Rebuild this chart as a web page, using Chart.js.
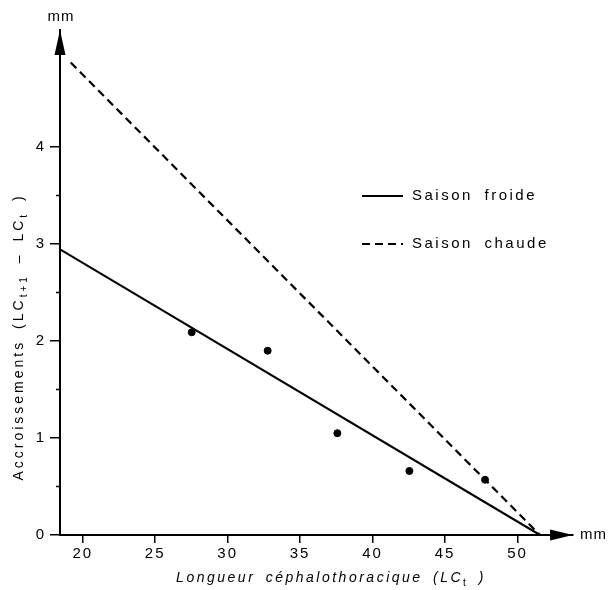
<!DOCTYPE html>
<html>
<head>
<meta charset="utf-8">
<script src="https://cdn.jsdelivr.net/npm/chart.js@4/dist/chart.umd.min.js"></script>
<style>
  html, body { margin: 0; padding: 0; background: #fff; }
</style>
</head>
<body>
<canvas id="chart" width="614" height="590"></canvas>
<script>
// mesures : longueur céphalothoracique (mm) / accroissement (mm)
let lcValues = [27.52, 32.76, 37.57, 42.54, 47.76];
let growthValues = [2.09, 1.90, 1.05, 0.66, 0.57];

// droites d'ajustement (extrémités)
let coldX = [18.43, 51.55];
let coldY = [2.945, 0];
let warmX = [19.17, 51.55];
let warmY = [4.87, 0];

let seriesNames = ["Saison froide", "Saison chaude"];

let xTicks = [20, 25, 30, 35, 40, 45, 50];
let yTicks = [0, 1, 2, 3, 4];
let yMinorTicks = [0.5, 1.5, 2.5, 3.5];

let FONT = "'Liberation Sans', Arial, sans-serif";

function toPoints(xs, ys) {
    return xs.map((x, i) => ({ x: x, y: ys[i] }));
}

// texte avec indices (LC t, LC t+1)
function drawRich(ctx, parts, x, y, size) {
    let widths = parts.map(p => {
        ctx.font = (p.sub ? Math.round(size * 0.72) : size) + "px " + FONT;
        if (p.italic) ctx.font = "italic " + ctx.font;
        return ctx.measureText(p.t).width;
    });
    let total = widths.reduce((a, b) => a + b, 0);
    let cx = x - total / 2;
    parts.forEach((p, i) => {
        ctx.font = (p.sub ? Math.round(size * 0.72) : size) + "px " + FONT;
        if (p.italic) ctx.font = "italic " + ctx.font;
        ctx.fillText(p.t, cx, y + (p.sub ? size * 0.35 : 0));
        cx += widths[i];
    });
}

let decor = {
    id: "decor",
    beforeDraw(chart) {
        chart.ctx.letterSpacing = "2px";
    },
    afterDraw(chart) {
        let ctx = chart.ctx;
        let area = chart.chartArea;
        let yScale = chart.scales.y;
        ctx.save();
        ctx.fillStyle = "#000";
        ctx.strokeStyle = "#000";

        // flèches des axes
        ctx.beginPath();
        ctx.moveTo(area.left, area.top);
        ctx.lineTo(area.left - 5.5, area.top + 25);
        ctx.lineTo(area.left + 5.5, area.top + 25);
        ctx.closePath();
        ctx.fill();
        ctx.beginPath();
        ctx.moveTo(area.right, area.bottom);
        ctx.lineTo(area.right - 23, area.bottom - 5.5);
        ctx.lineTo(area.right - 23, area.bottom + 5.5);
        ctx.closePath();
        ctx.fill();

        // petites graduations
        ctx.lineWidth = 1.5;
        yMinorTicks.forEach(v => {
            let py = yScale.getPixelForValue(v);
            ctx.beginPath();
            ctx.moveTo(area.left - 4, py);
            ctx.lineTo(area.left, py);
            ctx.stroke();
        });

        // unités
        ctx.letterSpacing = "1px";
        ctx.font = "15px " + FONT;
        ctx.textBaseline = "middle";
        ctx.textAlign = "center";
        ctx.fillText("mm", area.left + 1, 17);
        ctx.textAlign = "left";
        ctx.fillText("mm", area.right + 7, area.bottom);

        // titres des axes
        ctx.textAlign = "left";
        ctx.textBaseline = "middle";
        ctx.letterSpacing = "2.5px";
        ctx.wordSpacing = "4px";
        drawRich(ctx, [
            { t: "Longueur céphalothoracique (LC", italic: true },
            { t: "t", sub: true },
            { t: " )", italic: true }
        ], 331, 578, 14);

        ctx.save();
        ctx.translate(19, 337);
        ctx.rotate(-Math.PI / 2);
        ctx.letterSpacing = "3px";
        drawRich(ctx, [
            { t: "Accroissements (LC" },
            { t: "t+1", sub: true },
            { t: " – LC" },
            { t: "t", sub: true },
            { t: " )" }
        ], 0, 0, 14);
        ctx.restore();

        // légende
        ctx.font = "15px " + FONT;
        ctx.letterSpacing = "2.5px";
        ctx.wordSpacing = "5px";
        ctx.textAlign = "left";
        ctx.textBaseline = "middle";
        let rows = chart.data.datasets.filter(d => d.type === "line");
        rows.forEach((d, i) => {
            let ly = 196 + i * 48;
            ctx.beginPath();
            ctx.lineWidth = 2;
            ctx.setLineDash(d.borderDash || []);
            ctx.moveTo(362, ly);
            ctx.lineTo(403, ly);
            ctx.stroke();
            ctx.setLineDash([]);
            ctx.fillText(d.label, 412, ly);
        });

        ctx.restore();
        ctx.letterSpacing = "0px";
    }
};

new Chart(document.getElementById("chart"), {
    data: {
        datasets: [
            {
                type: "line",
                label: seriesNames[0],
                data: toPoints(coldX, coldY),
                borderColor: "#000",
                borderWidth: 2.2,
                pointRadius: 0,
                fill: false
            },
            {
                type: "line",
                label: seriesNames[1],
                data: toPoints(warmX, warmY),
                borderColor: "#000",
                borderWidth: 2.2,
                borderDash: [8, 5],
                pointRadius: 0,
                fill: false
            },
            {
                type: "scatter",
                label: "mesures",
                data: toPoints(lcValues, growthValues),
                backgroundColor: "#000",
                borderColor: "#000",
                pointRadius: 3.5,
                pointHoverRadius: 3.5
            }
        ]
    },
    options: {
        responsive: false,
        animation: false,
        devicePixelRatio: 1,
        layout: { padding: { top: 30, right: 41, left: 0, bottom: 0 } },
        plugins: {
            legend: { display: false },
            tooltip: { enabled: false }
        },
        scales: {
            x: {
                type: "linear",
                min: 18.43,
                max: 53.83,
                afterBuildTicks: s => { s.ticks = xTicks.map(v => ({ value: v })); },
                afterFit: s => { s.height = 55; },
                grid: { drawOnChartArea: false, drawTicks: true, tickLength: 8, color: "#000", lineWidth: 1.5 },
                border: { display: true, color: "#000", width: 2 },
                ticks: {
                    color: "#000",
                    font: { family: FONT, size: 15 },
                    padding: 2,
                    maxRotation: 0,
                    autoSkip: false
                }
            },
            y: {
                type: "linear",
                min: 0,
                max: 5.206,
                afterBuildTicks: s => { s.ticks = yTicks.map(v => ({ value: v })); },
                afterFit: s => { s.width = 60; },
                grid: { drawOnChartArea: false, drawTicks: true, tickLength: 10, color: "#000", lineWidth: 1.5 },
                border: { display: true, color: "#000", width: 2 },
                ticks: {
                    color: "#000",
                    font: { family: FONT, size: 15 },
                    padding: 4
                }
            }
        }
    },
    plugins: [decor]
});
</script>
</body>
</html>
